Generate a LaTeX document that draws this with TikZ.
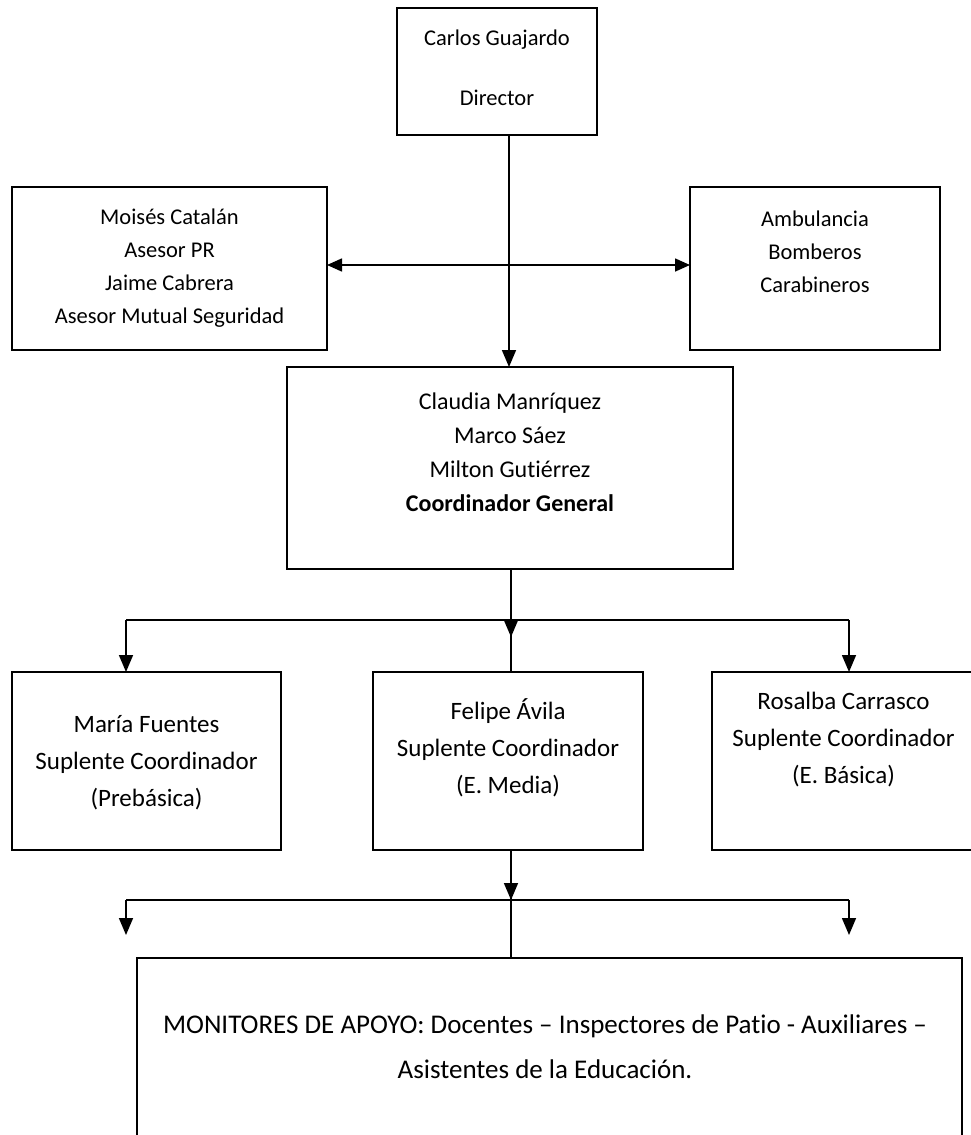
\documentclass[tikz,border=0pt]{standalone}
\usepackage{fontspec}
\setmainfont{Carlito}[Ligatures={NoCommon}]
\usetikzlibrary{arrows.meta}
\begin{document}
\begin{tikzpicture}[x=1pt,y=-1pt,
  box/.style={draw, line width=1.6pt, inner sep=0pt, outer sep=0pt},
  txt/.style={align=center, inner sep=0pt},
  ln/.style={line width=1.6pt},
  arr/.style={ln, -{Triangle[length=17pt,width=14pt]}},
  dbl/.style={ln, {Triangle[length=15pt,width=13pt]}-{Triangle[length=15pt,width=13pt]}},
  fa/.style={font=\fontsize{22.5}{33}\selectfont},
  fb/.style={font=\fontsize{25}{37}\selectfont},
]
\useasboundingbox (0,0) rectangle (971,1135);
\clip (0,0) rectangle (971,1135);

% boxes
\node[box, minimum width=200pt, minimum height=127pt] (dir) at (497,71.5) {};
\node[box, minimum width=315pt, minimum height=163pt] (le) at (169.5,268.5) {};
\node[box, minimum width=250pt, minimum height=163pt] (ri) at (815,268.5) {};
\node[box, minimum width=446pt, minimum height=202pt] (co) at (510,468) {};
\node[box, minimum width=269pt, minimum height=178pt] (ma) at (146.5,761) {};
\node[box, minimum width=270pt, minimum height=178pt] (fe) at (508,761) {};
\node[box, minimum width=263pt, minimum height=178pt] (ro) at (843.5,761) {};
\node[box, minimum width=825pt, minimum height=200pt] (mo) at (549.5,1058) {};

% texts
\node[txt, font=\fontsize{22.5}{60}\selectfont] (dirt) at (497,68) {Carlos Guajardo\\Director};
\node[txt, fa] (let) at (169.5,268) {Moisés Catalán\\Asesor PR\\Jaime Cabrera\\Asesor Mutual Seguridad};
\node[txt, fa] (rit) at (815,252) {Ambulancia\\Bomberos\\Carabineros};
\node[txt, font=\fontsize{24}{34}\selectfont] (cot) at (510,452) {Claudia Manríquez\\Marco Sáez\\Milton Gutiérrez\\\textbf{Coordinador General}};
\node[txt, fb] (mat) at (146.5,763) {María Fuentes\\Suplente Coordinador\\(Prebásica)};
\node[txt, fb] (fet) at (508,748) {Felipe Ávila\\Suplente Coordinador\\(E. Media)};
\node[txt, fb] (rot) at (843.5,740) {Rosalba Carrasco\\Suplente Coordinador\\(E. Básica)};
\node[txt, font=\fontsize{27}{45}\selectfont] (mot) at (545,1047) {MONITORES DE APOYO: Docentes – Inspectores de Patio - Auxiliares –\\Asistentes de la Educación.};

% helper coordinates
\coordinate (vx) at (509,0);
\coordinate (hy) at (0,265);
\coordinate (mx) at (511,0);
\coordinate (h1) at (0,620);
\coordinate (t1) at (511,637);
\coordinate (hl1) at (126,620);
\coordinate (hr1) at (849,620);
\coordinate (h2) at (0,900);
\coordinate (hl2) at (126,900);
\coordinate (hr2) at (849,900);
\coordinate (tl2) at (126,935);
\coordinate (tr2) at (849,935);

% connectors
\draw[arr] (dir.south -| vx) -- (co.north -| vx);
\draw[dbl] (le.east |- hy) -- (ri.west |- hy);

\draw[ln] (co.south -| mx) -- (fe.north -| mx);
\draw[arr] (h1 -| mx) -- (t1);
\draw[ln] (hl1) -- (hr1);
\draw[arr] (hl1) -- (ma.north -| hl1);
\draw[arr] (hr1) -- (ro.north -| hr1);

\draw[ln] (fe.south -| mx) -- (mo.north -| mx);
\draw[arr] (fe.south -| mx) -- (h2 -| mx);
\draw[ln] (hl2) -- (hr2);
\draw[arr] (hl2) -- (tl2);
\draw[arr] (hr2) -- (tr2);
\end{tikzpicture}
\end{document}
